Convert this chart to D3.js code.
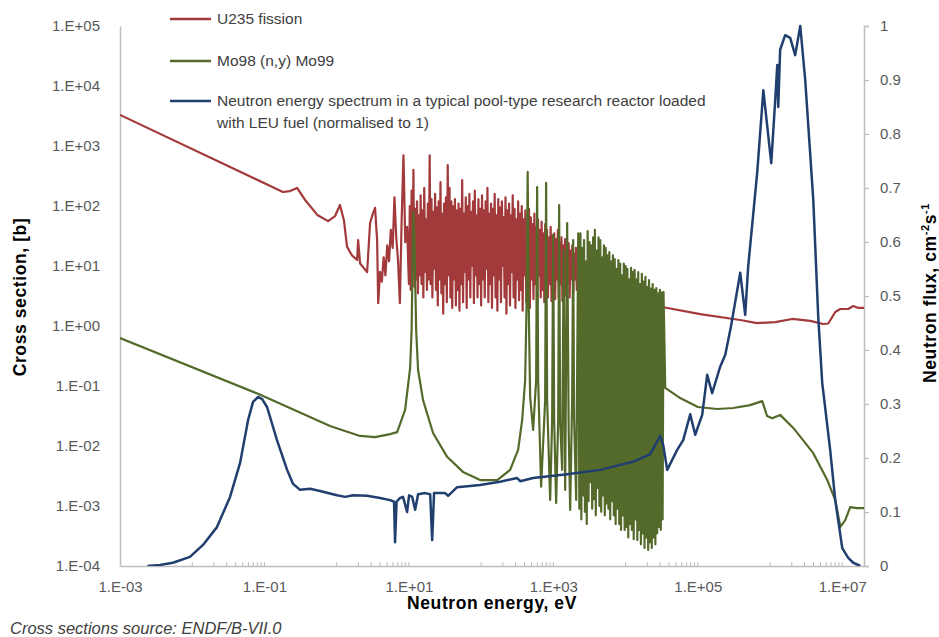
<!DOCTYPE html>
<html>
<head>
<meta charset="utf-8">
<script src="https://cdn.jsdelivr.net/npm/d3@7"></script>
<style>
body { margin: 0; background: #fff; }
svg text { font-family: "Liberation Sans", Arial, sans-serif; }
</style>
</head>
<body>
<svg id="chart" width="939" height="637"></svg>
<script>
// U235 fission cross section [eV, barn]
var u235Thermal = [
  [1e-3, 3300], [0.18, 171], [0.226, 177], [0.283, 200], [0.365, 126], [0.54, 71],
  [0.76, 56], [0.95, 68], [1.11, 104], [1.26, 58], [1.39, 21], [1.63, 15], [1.92, 12.6],
  [1.98, 27], [2.11, 11], [2.64, 7.9], [2.9, 52], [3.19, 76], [3.4, 93], [3.63, 27]
];
var u235Resolved = [
  [3.76, 2.4], [3.98, 8], [4.22, 5.5], [4.47, 14], [4.73, 7], [5.01, 22], [5.31, 12], [5.62, 40],
  [5.96, 20], [6.31, 140], [6.68, 30], [7.08, 12], [7.5, 2.4], [7.94, 60], [8.41, 700], [8.91, 25],
  [9.44, 45],
  [10, 5], [10.29, 100], [10.59, 4], [10.9, 180], [11.22, 8], [11.55, 400], [11.89, 4.5], [12.23, 90],
  [12.59, 6], [12.96, 120], [13.34, 3.5], [13.72, 70], [14.13, 7], [14.54, 150], [14.96, 5], [15.4, 85],
  [15.85, 3], [16.31, 200], [16.79, 8], [17.28, 60], [17.78, 4], [18.3, 110], [18.84, 6], [19.39, 700],
  [19.95, 5], [20.54, 130], [21.13, 3], [21.75, 80], [22.39, 9], [23.04, 160], [23.71, 4], [24.41, 95],
  [25.12, 2.2], [25.85, 120], [26.61, 6], [27.38, 250], [28.18, 3.5], [29.01, 75], [29.85, 1.6], [30.73, 110],
  [31.62, 5], [32.55, 140], [33.5, 2.5], [34.47, 480], [35.48, 7], [36.52, 200], [37.58, 3], [38.68, 120],
  [39.81, 2], [40.97, 100], [42.17, 6], [43.4, 130], [44.67, 2.2], [45.97, 85], [47.32, 4], [48.7, 110],
  [50.12, 1.8], [51.58, 90], [53.09, 5], [54.64, 270], [56.23, 2.5], [57.88, 75], [59.57, 8], [61.31, 140],
  [63.1, 2], [64.94, 100], [66.83, 6], [68.79, 160], [70.79, 3], [72.86, 80], [74.99, 10], [77.18, 120],
  [79.43, 2.4], [81.75, 180], [84.14, 7], [86.6, 70], [89.13, 3], [91.73, 130], [94.41, 5], [97.16, 90],
  [100, 2.2], [102.9, 150], [105.9, 6], [109, 85], [112.2, 3], [115.5, 120], [118.9, 9], [122.3, 200],
  [125.9, 2.5], [129.6, 75], [133.4, 5], [137.2, 110], [141.3, 2], [145.4, 90], [149.6, 7], [154, 160],
  [158.5, 3], [163.1, 70], [167.9, 1.8], [172.8, 130], [177.8, 6], [183, 95], [188.4, 2.5], [193.9, 120],
  [199.5, 10], [205.4, 65], [211.3, 3], [217.5, 140], [223.9, 1.6], [230.4, 85], [237.1, 5], [244.1, 110],
  [251.2, 2.2], [258.5, 70], [266.1, 8], [273.8, 150], [281.8, 3], [290.1, 90], [298.5, 2], [307.3, 60],
  [316.2, 6], [325.5, 120], [335, 2.7], [344.7, 75], [354.8, 4], [365.2, 100], [375.8, 1.8], [386.8, 60],
  [398.1, 7], [409.7, 85], [421.7, 2.5], [434, 55], [446.7, 4.5], [459.7, 90], [473.2, 2], [487, 65],
  [501.2, 6], [515.8, 50], [530.9, 2.8], [546.4, 75], [562.3, 5], [578.8, 45], [595.7, 2.2], [613.1, 60],
  [631, 7], [649.4, 40], [668.3, 3], [687.9, 55], [707.9, 4], [728.6, 35], [749.9, 2.5], [771.8, 50],
  [794.3, 6], [817.5, 40], [841.4, 3], [866, 30], [891.3, 5], [917.3, 45], [944.1, 2.6], [971.6, 32],
  [1000, 5], [1029, 35], [1059, 2.8], [1090, 28], [1122, 6], [1155, 40], [1189, 3], [1223, 25],
  [1259, 5], [1296, 30], [1334, 2.6], [1372, 22], [1413, 6], [1454, 28], [1496, 3.2], [1540, 20],
  [1585, 5.5], [1631, 24], [1679, 3], [1728, 18], [1778, 6], [1830, 22], [1884, 3.5], [1939, 16],
  [1995, 6], [2054, 20], [2113, 4], [2175, 15], [2239, 5]
];
var u235Fast = [
  [2500, 5.2], [3450, 4.6], [6100, 3.5], [11600, 2.7], [32000, 2.07], [108000, 1.58],
  [387000, 1.26], [660000, 1.12], [1180000, 1.16], [2030000, 1.31], [3600000, 1.22],
  [5460000, 1.08], [6400000, 1.1], [8000000, 1.71], [9400000, 1.92], [12100000, 1.92],
  [14200000, 2.15], [16700000, 2.0], [20000000, 2.0]
];

// Mo98 (n,y) Mo99 cross section [eV, barn]
var mo98Low = [
  [1e-3, 0.63], [0.0815, 0.074], [0.81, 0.0215], [2.1, 0.0147], [3.4, 0.0141], [5.5, 0.0158],
  [6.87, 0.017], [8.86, 0.04], [10.4, 0.2], [10.9, 0.86], [11.3, 18.5], [11.6, 80], [12.0, 18.5],
  [12.6, 0.86], [13.4, 0.185], [15.7, 0.058], [21.6, 0.0165], [33.8, 0.0066], [56, 0.0037],
  [97, 0.0027], [167, 0.0027], [252, 0.004], [325, 0.0086], [370, 0.027], [407, 0.126]
];
var mo98Res = [
  [427, 2.7], [441, 370], [455, 2.7], [477, 0.066], [525, 0.0185], [578, 0.126], [596, 207],
  [616, 0.126], [677, 0.0021], [770, 0.058], [794, 242], [820, 0.058], [903, 0.00126],
  [962, 0.027], [994, 33], [1026, 0.027], [1093, 0.00112], [1166, 0.027], [1203, 104],
  [1242, 0.027], [1324, 0.004], [1389, 18.5], [1457, 0.00185], [1553, 52], [1630, 0.0185],
  [1709, 0.00086], [1820, 0.058], [1880, 27], [1940, 0.027], [2070, 0.00126], [2210, 35],
  [2290, 0.0009]
];
var mo98Band = [
  [2371, 35], [2441, 0.0006], [2512, 20], [2585, 0.0015], [2661, 27], [2738, 0.0008], [2818, 12],
  [2901, 0.0005], [2985, 38], [3073, 0.0012], [3162, 25], [3255, 0.0025], [3350, 22], [3447, 0.0009],
  [3548, 30], [3652, 0.0013], [3758, 40], [3868, 0.0007], [3981, 18], [4097, 0.002], [4217, 30],
  [4340, 0.001], [4467, 27], [4597, 0.0008], [4732, 14], [4870, 0.0015], [5012, 22], [5158, 0.0007],
  [5309, 20], [5464, 0.0011], [5623, 15], [5788, 0.0009], [5957, 17], [6131, 0.0006], [6310, 12],
  [6494, 0.0012], [6683, 15], [6879, 0.0007], [7079, 13], [7286, 0.0005], [7499, 9], [7718, 0.0009],
  [7943, 12.6], [8175, 0.0005], [8414, 11], [8660, 0.0004], [8913, 7], [9173, 0.0007], [9441, 11],
  [9716, 0.0004], [10000, 10], [10290, 0.00045], [10590, 9], [10900, 0.0003], [11220, 6],
  [11550, 0.0005], [11890, 9.3], [12230, 0.0004], [12590, 8], [12960, 0.00028], [13340, 8.6],
  [13720, 0.0006], [14130, 6], [14540, 0.00027], [14960, 7.9], [15400, 0.0004], [15850, 5],
  [16310, 0.00023], [16790, 7.4], [17280, 0.00035], [17780, 5.5], [18300, 0.0002], [18840, 6.6],
  [19390, 0.0003], [19950, 4.5], [20540, 0.000185], [21130, 5.8], [21750, 0.00025], [22390, 4.2],
  [23040, 0.0002], [23710, 5], [24410, 0.0003], [25120, 4], [25850, 0.00023], [26610, 4.3],
  [27380, 0.00035], [28180, 3.5], [29010, 0.00045], [29850, 4.0], [30730, 0.0004], [31620, 3.6],
  [32550, 0.0006], [33500, 3.7]
];
var mo98Fast = [
  [35400, 0.093], [57000, 0.063], [100000, 0.0447], [186000, 0.0414], [310000, 0.043],
  [530000, 0.048], [780000, 0.056], [910000, 0.0316], [1070000, 0.029], [1380000, 0.033],
  [2100000, 0.02], [3970000, 0.0076], [6200000, 0.0027], [8000000, 0.00126], [9400000, 0.00045],
  [11000000, 0.00058], [12900000, 0.00096], [16100000, 0.00092], [20000000, 0.00092]
];

// neutron spectrum, normalised to 1 [eV, -]
var fluxSpectrum = [
  [0.0024, 0], [0.0036, 0.002], [0.0054, 0.006], [0.0093, 0.017], [0.0141, 0.039], [0.022, 0.072],
  [0.0334, 0.128], [0.046, 0.191], [0.0593, 0.27], [0.0695, 0.304], [0.0815, 0.313], [0.093, 0.309],
  [0.109, 0.294], [0.149, 0.233], [0.206, 0.178], [0.249, 0.152], [0.311, 0.141], [0.428, 0.143],
  [0.588, 0.139], [1.01, 0.131], [1.31, 0.128], [1.69, 0.131], [2.64, 0.13], [3.99, 0.126],
  [5.5, 0.122], [6.23, 0.119], [6.43, 0.044], [6.75, 0.119], [7.55, 0.126], [8.3, 0.128],
  [9.44, 0.1], [10.06, 0.131], [11.1, 0.128], [12.2, 0.104], [13.4, 0.133], [16.8, 0.135],
  [19.7, 0.133], [21.0, 0.048], [22.3, 0.135], [31.7, 0.135], [34.9, 0.13], [46.5, 0.146],
  [97, 0.15], [183, 0.156], [315, 0.163], [347, 0.157], [525, 0.163], [1553, 0.17], [4450, 0.178],
  [12700, 0.193], [21900, 0.207], [30200, 0.241], [33200, 0.224], [37700, 0.178], [51800, 0.215],
  [62800, 0.233], [78500, 0.281], [92000, 0.243], [115000, 0.28], [135000, 0.354], [158000, 0.32],
  [204000, 0.369], [240000, 0.391], [290000, 0.446], [387000, 0.543], [453000, 0.465],
  [498000, 0.554], [664000, 0.728], [808000, 0.881], [1040000, 0.746], [1180000, 0.863],
  [1260000, 0.928], [1300000, 0.85], [1380000, 0.956], [1620000, 0.983], [1900000, 0.978],
  [2230000, 0.946], [2620000, 1.0], [3070000, 0.9], [3970000, 0.678], [4650000, 0.461],
  [5280000, 0.339], [6800000, 0.215], [8000000, 0.122], [10000000, 0.033], [12100000, 0.015],
  [14200000, 0.006], [17800000, 0]
];

var xTicks = [1e-3, 1e-1, 1e1, 1e3, 1e5, 1e7];
var leftTicks = [1e-4, 1e-3, 1e-2, 1e-1, 1, 1e1, 1e2, 1e3, 1e4, 1e5];
var rightTicks = [0, 0.1, 0.2, 0.3, 0.4, 0.5, 0.6, 0.7, 0.8, 0.9, 1];
var minorDecades = [1e-2, 1, 1e2, 1e4, 1e6];

var series = [
  {name: "U235 fission", color: "#a2393a", data: u235Thermal.concat(u235Resolved, u235Fast), axis: "left"},
  {name: "Mo98 (n,y) Mo99", color: "#546a2a", data: mo98Low.concat(mo98Res, mo98Band, mo98Fast), axis: "left"},
  {name: "Neutron energy spectrum in a typical pool-type research reactor loaded", name2: "with LEU fuel (normalised to 1)", color: "#213f6e", data: fluxSpectrum, axis: "right"}
];

var svg = d3.select("#chart");
var plotLeft = 120, plotRight = 864, plotTop = 26, plotBottom = 566;

var x = d3.scaleLog().domain([1e-3, 2e7]).range([plotLeft, plotRight]);
var yL = d3.scaleLog().domain([1e-4, 1e5]).range([plotBottom, plotTop]);
var yR = d3.scaleLinear().domain([0, 1]).range([plotBottom, plotTop]);

function sci(v) {
  var e = Math.round(Math.log10(v));
  var a = Math.abs(e);
  return "1.E" + (e < 0 ? "-" : "+") + (a < 10 ? "0" : "") + a;
}

svg.append("defs").append("clipPath").attr("id", "plot")
  .append("rect").attr("x", plotLeft).attr("y", plotTop - 2)
  .attr("width", plotRight - plotLeft).attr("height", plotBottom - plotTop + 2);

// axes
var gl = svg.append("g").attr("transform", "translate(" + plotLeft + ",0)")
  .call(d3.axisLeft(yL).tickValues(leftTicks).tickFormat(sci).tickSize(0).tickPadding(20));
var gb = svg.append("g").attr("transform", "translate(0," + plotBottom + ")")
  .call(d3.axisBottom(x).tickValues(xTicks).tickFormat(sci).tickSize(0).tickPadding(15));
var gr = svg.append("g").attr("transform", "translate(" + plotRight + ",0)")
  .call(d3.axisRight(yR).tickValues(rightTicks).tickFormat(function(d) { return String(+d.toFixed(1)); })
    .tickSize(5).tickSizeOuter(5).tickPadding(11));

[gl, gb, gr].forEach(function(g) {
  g.select(".domain").attr("stroke", "#bdbdbd").attr("stroke-width", 1.5);
  g.selectAll(".tick line").attr("stroke", "#bdbdbd").attr("stroke-width", 1.2);
  g.selectAll(".tick text").attr("fill", "#595959").style("font-size", "15px")
    .style("font-family", "'Liberation Sans', Arial, sans-serif");
});

// minor ticks on the energy axis
var minor = [];
minorDecades.forEach(function(d) {
  for (var k = 1; k <= 10; k++) minor.push(k * d);
});
svg.append("g").selectAll("line").data(minor).enter().append("line")
  .attr("x1", function(d) { return x(d); }).attr("x2", function(d) { return x(d); })
  .attr("y1", plotBottom).attr("y2", plotBottom - 4)
  .attr("stroke", "#bdbdbd").attr("stroke-width", 1);

// curves
var plot = svg.append("g").attr("clip-path", "url(#plot)");
series.forEach(function(s) {
  var yy = s.axis === "left" ? yL : yR;
  var line = d3.line()
    .x(function(d) { return x(d[0]); })
    .y(function(d) { return yy(d[1]); });
  plot.append("path")
    .datum(s.data)
    .attr("d", line)
    .attr("fill", "none")
    .attr("stroke", s.color)
    .attr("stroke-width", s.axis === "left" ? 2.2 : 2.5)
    .attr("stroke-linejoin", "round");
});

// legend
var leg = svg.append("g");
var legY = [19, 61, 101];
series.forEach(function(s, i) {
  leg.append("line").attr("x1", 170).attr("x2", 211).attr("y1", legY[i]).attr("y2", legY[i])
    .attr("stroke", s.color).attr("stroke-width", 2.5);
  leg.append("text").attr("x", 217).attr("y", legY[i]).attr("dy", "0.35em")
    .attr("fill", "#404040").style("font-size", "15.5px").text(s.name);
  if (s.name2) {
    leg.append("text").attr("x", 217).attr("y", legY[i] + 22).attr("dy", "0.35em")
      .attr("fill", "#404040").style("font-size", "15.5px").text(s.name2);
  }
});

// titles
svg.append("text").attr("transform", "translate(26,297) rotate(-90)")
  .attr("text-anchor", "middle").style("font-size", "17.5px").style("font-weight", "bold")
  .style("letter-spacing", "0.6px").text("Cross section, [b]");

var rt = svg.append("text").attr("transform", "translate(936,293) rotate(-90)")
  .attr("text-anchor", "middle").style("font-size", "17.5px").style("font-weight", "bold")
  .style("letter-spacing", "0.6px");
rt.append("tspan").text("Neutron flux, cm");
rt.append("tspan").attr("dy", -7).style("font-size", "11px").text("-2");
rt.append("tspan").attr("dy", 7).text("s");
rt.append("tspan").attr("dy", -7).style("font-size", "11px").text("-1");

svg.append("text").attr("x", 492).attr("y", 609).attr("text-anchor", "middle")
  .style("font-size", "17.5px").style("font-weight", "bold").style("letter-spacing", "0.6px")
  .text("Neutron energy, eV");

svg.append("text").attr("x", 10).attr("y", 634).attr("fill", "#404040")
  .style("font-size", "16.5px").style("font-style", "italic").text("Cross sections source: ENDF/B-VII.0");
</script>
</body>
</html>
